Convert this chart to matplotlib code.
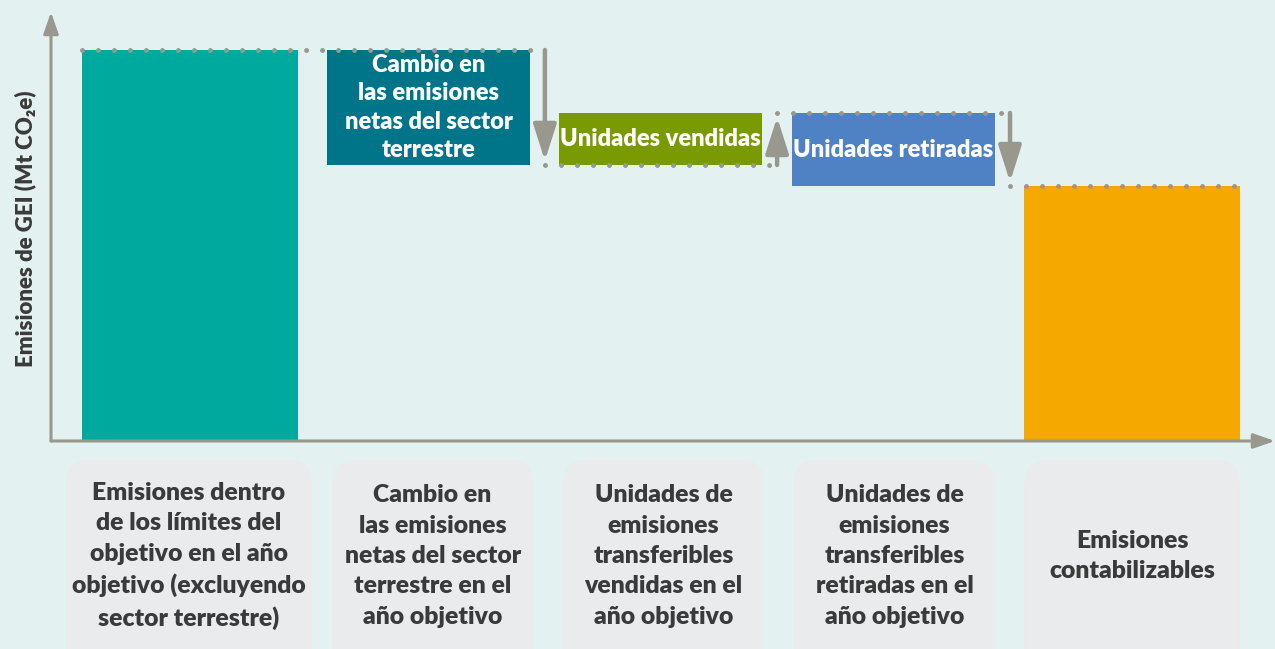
import numpy as np
import matplotlib.pyplot as plt
from matplotlib.patches import FancyBboxPatch

# datos del gráfico de cascada
categorias = [
    "Emisiones dentro\nde los límites del\nobjetivo en el año\nobjetivo (excluyendo\nsector terrestre)",
    "Cambio en\nlas emisiones\nnetas del sector\nterrestre en el\naño objetivo",
    "Unidades de\nemisiones\ntransferibles\nvendidas en el\naño objetivo",
    "Unidades de\nemisiones\ntransferibles\nretiradas en el\naño objetivo",
    "Emisiones\ncontabilizables",
]
etiquetas_barra = ["", "Cambio en\nlas emisiones\nnetas del sector\nterrestre",
                   "Unidades vendidas", "Unidades retiradas", ""]
cambios = [100, -29.4, 13.3, -18.7]  # base + variaciones
ylabel = "Emisiones de GEI (Mt CO₂e)"

colores = ['#00A99D', '#00758A', '#7A9A01', '#4F82C4', '#F5A800']
fondo = '#E3F2F1'
gris = '#99988F'
texto = '#3A3A3A'

# posiciones y anchos (en unidades de categoría)
pos_barras = [0, 1.013, 1.998, 2.987, 4.0]
anchos = [0.92, 0.862, 0.862, 0.862, 0.92]
pos_cajas = [-0.004, 1.030, 2.011, 2.992, 4.0]
anchos_caja = [1.045, 0.854, 0.854, 0.854, 0.917]
x_fl = [1.507, 2.493, 3.482]

plt.rcParams['font.family'] = ['Lato', 'DejaVu Sans']

W, H = 1275, 649
fig = plt.figure(figsize=(W / 100, H / 100), dpi=100)
fig.patch.set_facecolor(fondo)
ax = fig.add_axes([0, 0, 1, 1])
ax.set_facecolor(fondo)
ax.axis('off')

# escala: centro de barra 0 en px 190, 235.5 px por categoría; y=0 en px 441, 3.91 px por unidad
px_x, px_y = 235.5, 3.91
ax.set_xlim(-190 / px_x, (W - 190) / px_x)
ax.set_ylim(-(H - 441) / px_y, 441 / px_y)

# cálculo de la cascada
acum = np.cumsum(cambios)
total = acum[-1]
bases = [0] + [min(acum[i - 1], acum[i]) for i in range(1, len(cambios))] + [0]
alturas = [cambios[0]] + [abs(c) for c in cambios[1:]] + [total]

ax.bar(pos_barras, alturas, bottom=bases, width=anchos, color=colores, zorder=2)

for xi, b, h, lab in zip(pos_barras, bases, alturas, etiquetas_barra):
    if lab:
        ax.text(xi, b + h / 2, lab, ha='center', va='center', color='white',
                fontsize=17, fontweight='heavy', linespacing=1.36, zorder=4)

# líneas punteadas y flechas entre niveles
niveles = list(acum)
segmentos = [(pos_barras[0] - anchos[0] / 2, x_fl[0], niveles[0]),
             (x_fl[0], x_fl[1], niveles[1]),
             (x_fl[1], x_fl[2], niveles[2]),
             (x_fl[2], pos_barras[4] + anchos[4] / 2, niveles[3])]
for x0, x1, yv in segmentos:
    ax.plot([x0, x1], [yv, yv], color=gris, lw=3.6, linestyle=(0, (0.001, 3.2)),
            dash_capstyle='round', zorder=3)

for xf, y0, y1 in zip(x_fl, niveles[:-1], niveles[1:]):
    ax.annotate('', xy=(xf, y1), xytext=(xf, y0),
                arrowprops=dict(arrowstyle='-|>,head_length=2.2,head_width=0.7',
                                color=gris, lw=3.2, shrinkA=0, shrinkB=3), zorder=3)

# ejes con flecha
x_eje = (51 - 190) / px_x
ax.annotate('', xy=(x_eje, 429 / px_y), xytext=(x_eje, 0),
            arrowprops=dict(arrowstyle='-|>,head_length=1.3,head_width=0.45',
                            color=gris, lw=2.2, shrinkA=0, shrinkB=0), zorder=3)
ax.annotate('', xy=((W - 190) / px_x, 0), xytext=(x_eje, 0),
            arrowprops=dict(arrowstyle='-|>,head_length=1.3,head_width=0.45',
                            color=gris, lw=2.2, shrinkA=0, shrinkB=0), zorder=3)

# cajas de categorías
y_top = -(460 - 441) / px_y
y_bot = -(H + 40 - 441) / px_y
y_txt = -(556 - 441) / px_y
for xc, wc, cat in zip(pos_cajas, anchos_caja, categorias):
    caja = FancyBboxPatch((xc - wc / 2, y_bot), wc, y_top - y_bot,
                          boxstyle='round,pad=0,rounding_size=0.1',
                          mutation_aspect=(1 / px_y) / (1 / px_x),
                          facecolor='#E9EBEC', edgecolor='none', zorder=1)
    ax.add_patch(caja)
    ax.text(xc, y_txt, cat, ha='center', va='center', color=texto,
            fontsize=17.8, fontweight='heavy', linespacing=1.47, zorder=4)

fig.text(25 / W, 1 - 229 / H, ylabel, rotation=90, ha='center', va='center',
         color=texto, fontsize=16, fontweight='heavy')

fig.savefig('out.png', dpi=100, facecolor=fondo)
